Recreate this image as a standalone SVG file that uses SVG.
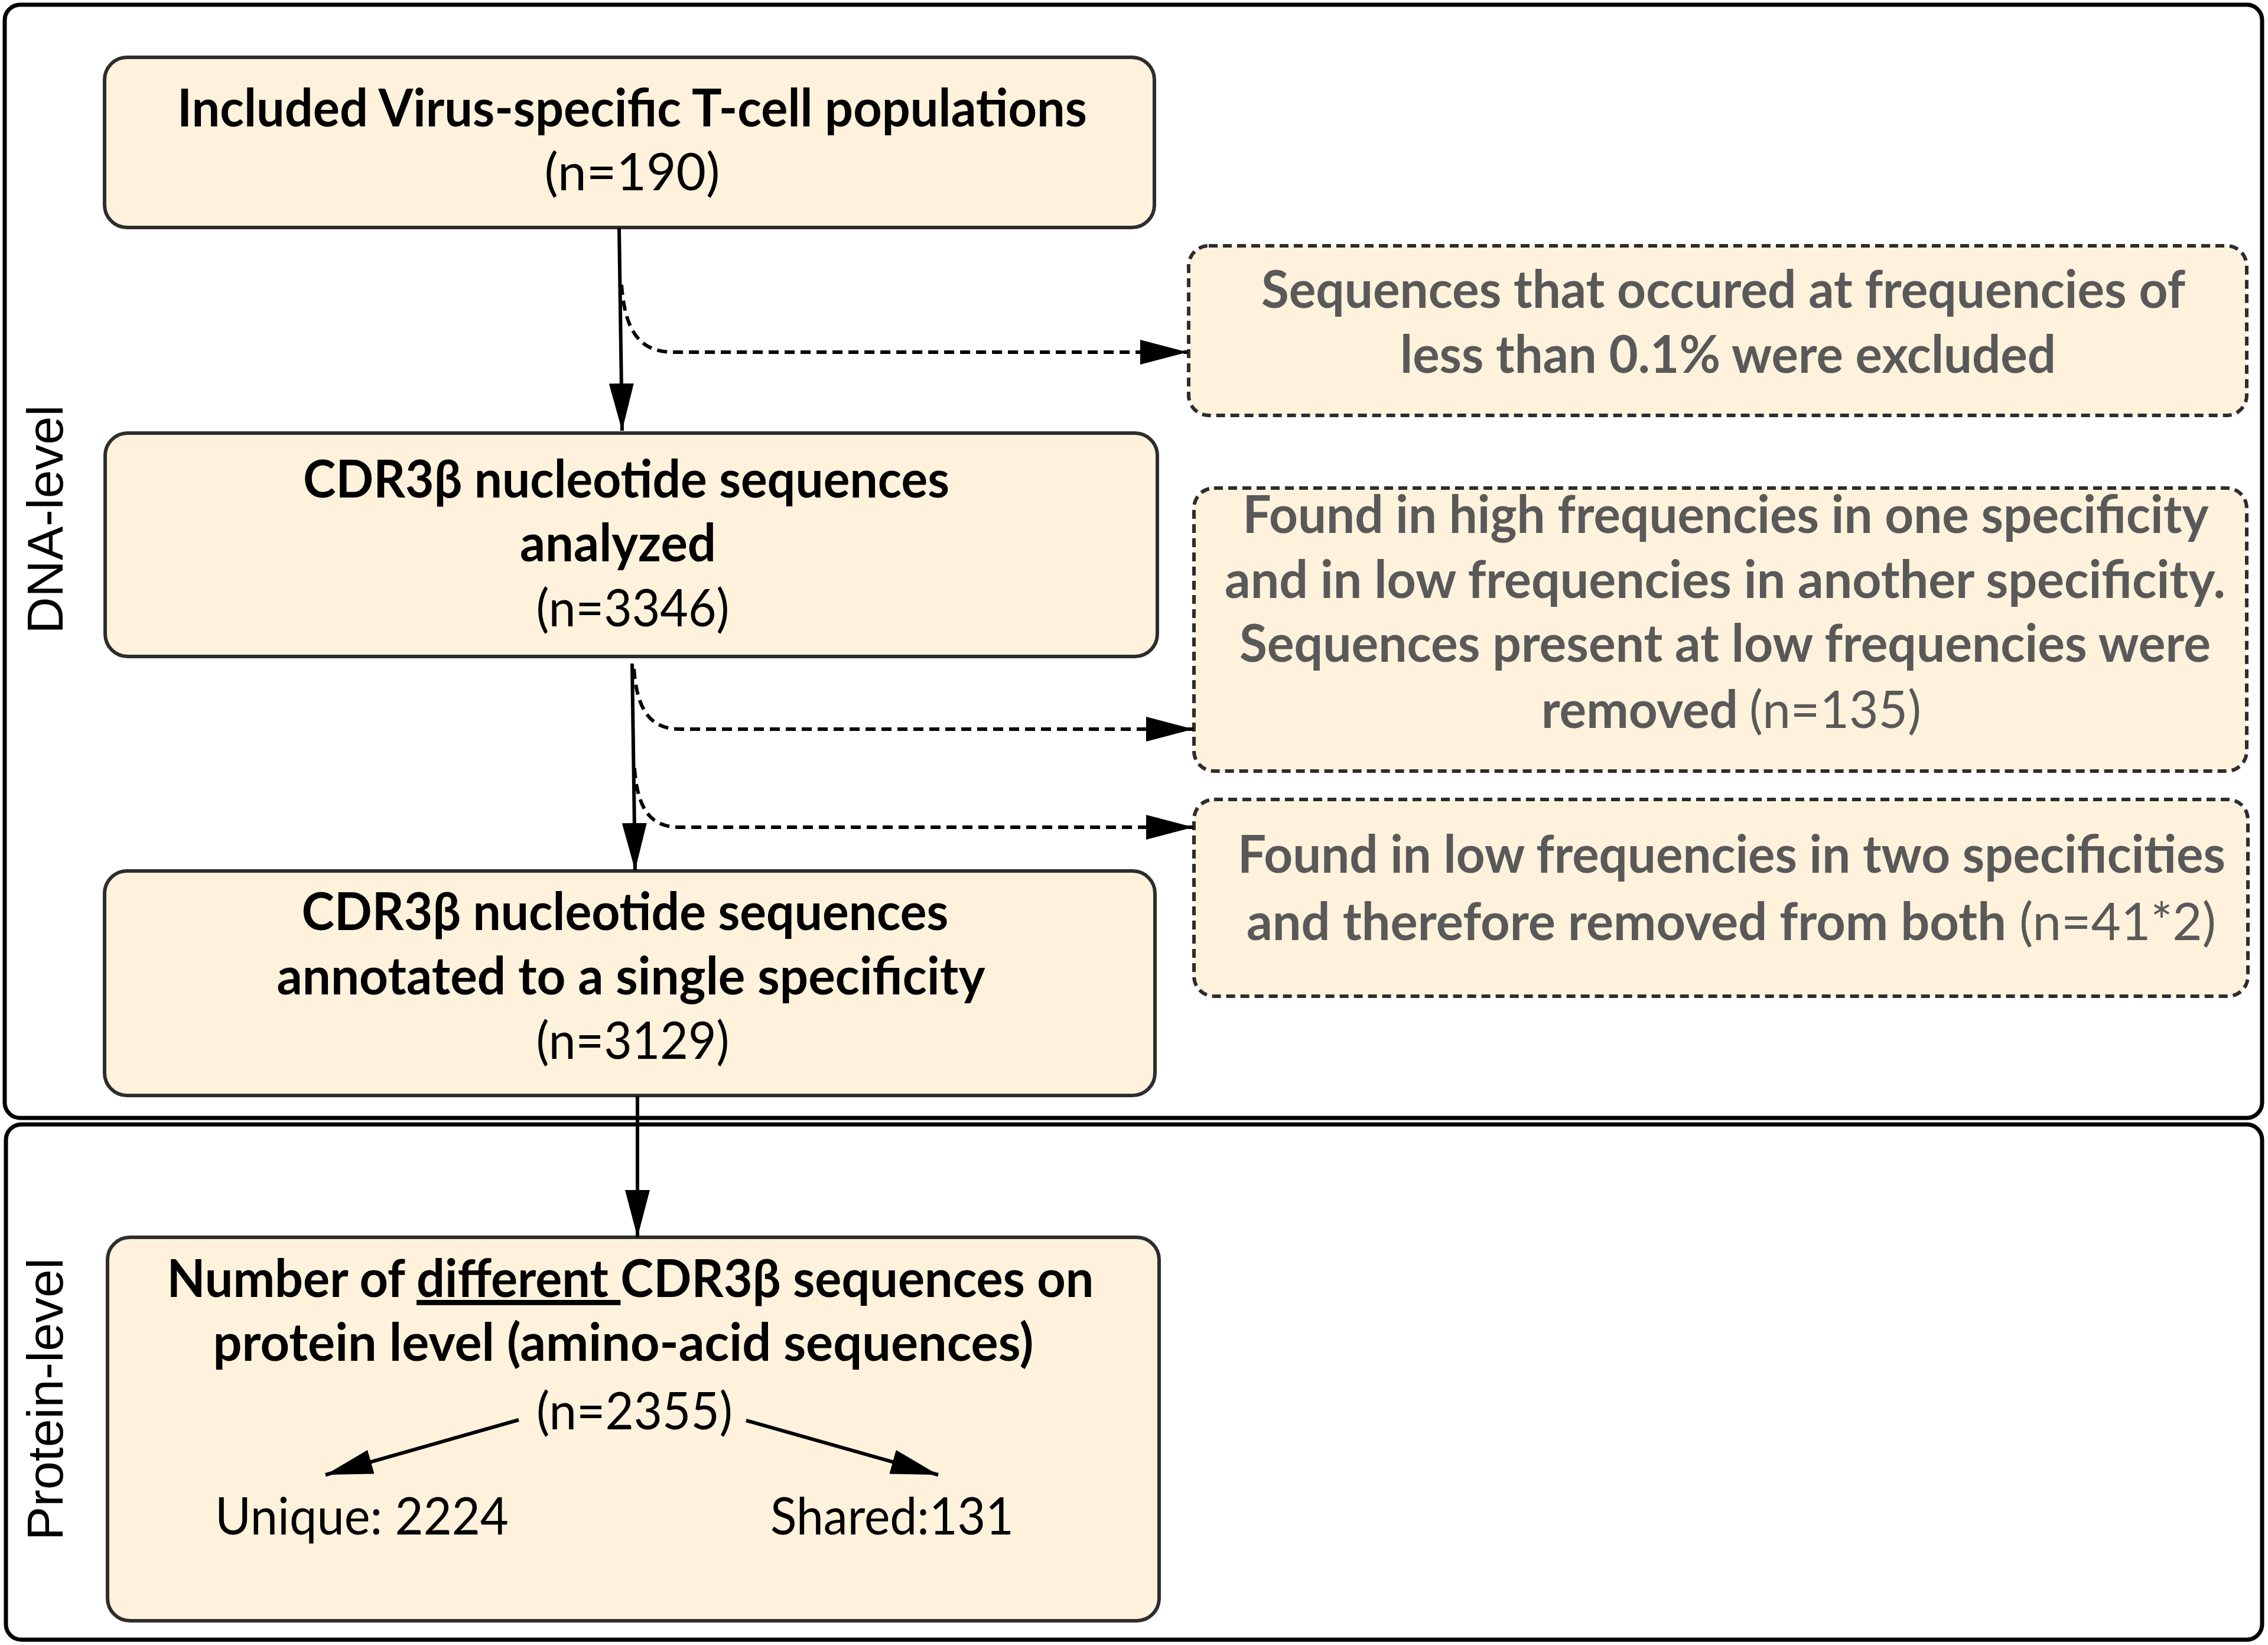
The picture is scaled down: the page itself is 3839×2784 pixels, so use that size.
<svg xmlns="http://www.w3.org/2000/svg" width="3839" height="2784" viewBox="0 0 3839 2784">
<style>
.frame{fill:none;stroke:#000;stroke-width:7}
.box{fill:#FEF2DC;stroke:#2d2d2d;stroke-width:6}
.dbox{fill:#FEF2DC;stroke:#2d2d2d;stroke-width:6;stroke-dasharray:15 9}
.b{font-family:Lato,"Open Sans","Liberation Sans",sans-serif;font-weight:700;font-size:88px;fill:#000}
.r{font-family:Lato,"Open Sans","Liberation Sans",sans-serif;font-weight:400;font-size:88px;fill:#000}
.g{fill:#595959}
.side{font-family:"Liberation Sans",Arial,sans-serif;font-size:86px;fill:#000}
.conn{fill:none;stroke:#000;stroke-width:6}
.dash{fill:none;stroke:#000;stroke-width:6;stroke-dasharray:17 10}
</style>
<defs>
<marker id="ah" viewBox="0 0 80 42" refX="80" refY="21" markerWidth="80" markerHeight="42" markerUnits="userSpaceOnUse" orient="auto">
<path d="M0,0 L80,21 L0,42 Z" fill="#000"/>
</marker>
</defs>
<rect width="3839" height="2784" fill="#fff"/>
<g id="dna-level">
<rect class="frame" x="8" y="8" width="3821" height="1884" rx="26"/>
<text class="side" transform="translate(106,879) rotate(-90)" text-anchor="middle">DNA-level</text>
</g>
<g id="protein-level">
<rect class="frame" x="10" y="1903" width="3819" height="872" rx="26"/>
<text class="side" transform="translate(106,2368) rotate(-90)" text-anchor="middle">Protein-level</text>
</g>
<g id="n1">
<rect class="box" x="177" y="97" width="1777" height="288" rx="38"/>
<text class="b" x="1070" y="214" text-anchor="middle" textLength="1540" lengthAdjust="spacingAndGlyphs">Included Virus-specific T-cell populations</text>
<text class="r" x="1070" y="322" text-anchor="middle" textLength="297" lengthAdjust="spacingAndGlyphs">(n=190)</text>
</g>
<g id="n2">
<rect class="box" x="178" y="733" width="1781" height="378" rx="38"/>
<text class="b" x="1060" y="842" text-anchor="middle" textLength="1094" lengthAdjust="spacingAndGlyphs">CDR3β nucleotide sequences</text>
<text class="b" x="1046" y="950" text-anchor="middle" textLength="332" lengthAdjust="spacingAndGlyphs">analyzed</text>
<text class="r" x="1071" y="1060" text-anchor="middle" textLength="327" lengthAdjust="spacingAndGlyphs">(n=3346)</text>
</g>
<g id="n3">
<rect class="box" x="177" y="1474" width="1778" height="380" rx="38"/>
<text class="b" x="1058" y="1574" text-anchor="middle" textLength="1095" lengthAdjust="spacingAndGlyphs">CDR3β nucleotide sequences</text>
<text class="b" x="1068" y="1683" text-anchor="middle" textLength="1199" lengthAdjust="spacingAndGlyphs">annotated to a single specificity</text>
<text class="r" x="1071" y="1792" text-anchor="middle" textLength="327" lengthAdjust="spacingAndGlyphs">(n=3129)</text>
</g>
<g id="n4">
<rect class="box" x="182" y="2094" width="1780" height="649" rx="38"/>
<text class="b" x="1067" y="2195" text-anchor="middle" textLength="1569" lengthAdjust="spacingAndGlyphs">Number of <tspan text-decoration="underline">different </tspan>CDR3β sequences on</text>
<text class="b" x="1055" y="2303" text-anchor="middle" textLength="1389" lengthAdjust="spacingAndGlyphs">protein level (amino-acid sequences)</text>
<text class="r" x="1074" y="2419" text-anchor="middle" textLength="332" lengthAdjust="spacingAndGlyphs">(n=2355)</text>
<text class="r" x="364" y="2597" textLength="497" lengthAdjust="spacingAndGlyphs">Unique: 2224</text>
<text class="r" x="1304" y="2597" textLength="412" lengthAdjust="spacingAndGlyphs">Shared:131</text>
</g>
<g id="e1">
<rect class="dbox" x="2012" y="416" width="1791" height="287" rx="34"/>
<text class="b g" x="2917" y="521" text-anchor="middle" textLength="1564" lengthAdjust="spacingAndGlyphs">Sequences that occured at frequencies of</text>
<text class="b g" x="2925" y="631" text-anchor="middle" textLength="1110" lengthAdjust="spacingAndGlyphs">less than 0.1% were excluded</text>
</g>
<g id="e2">
<rect class="dbox" x="2021" y="826" width="1782" height="479" rx="34"/>
<text class="b g" x="2921" y="902" text-anchor="middle" textLength="1635" lengthAdjust="spacingAndGlyphs">Found in high frequencies in one specificity</text>
<text class="b g" x="2920" y="1012" text-anchor="middle" textLength="1694" lengthAdjust="spacingAndGlyphs">and in low frequencies in another specificity.</text>
<text class="b g" x="2920" y="1120" text-anchor="middle" textLength="1644" lengthAdjust="spacingAndGlyphs">Sequences present at low frequencies were</text>
<text class="b g" x="2609" y="1232" textLength="333" lengthAdjust="spacingAndGlyphs">removed</text>
<text class="r g" x="2961" y="1232" textLength="291" lengthAdjust="spacingAndGlyphs">(n=135)</text>
</g>
<g id="e3">
<rect class="dbox" x="2021" y="1353" width="1784" height="333" rx="34"/>
<text class="b g" x="2931" y="1477" text-anchor="middle" textLength="1672" lengthAdjust="spacingAndGlyphs">Found in low frequencies in two specificities</text>
<text class="b g" x="2110" y="1591" textLength="1286" lengthAdjust="spacingAndGlyphs">and therefore removed from both</text>
<text class="r g" x="3418" y="1591" textLength="333" lengthAdjust="spacingAndGlyphs">(n=41*2)</text>
</g>
<g id="connectors">
<path class="conn" d="M1048,386 L1053,729" marker-end="url(#ah)"/>
<path class="dash" d="M1052,482 C1058,560 1082,596 1140,596 L2010,596" marker-end="url(#ah)"/>
<path class="conn" d="M1070,1123 L1075,1473" marker-end="url(#ah)"/>
<path class="dash" d="M1073,1132 C1078,1200 1100,1234 1150,1234 L2020,1234" marker-end="url(#ah)"/>
<path class="dash" d="M1074,1300 C1079,1368 1100,1400 1150,1400 L2020,1400" marker-end="url(#ah)"/>
<path class="conn" d="M1079,1855 L1079,2094" marker-end="url(#ah)"/>
<path class="conn" d="M878,2403 L551,2496" marker-end="url(#ah)"/>
<path class="conn" d="M1263,2404 L1588,2496" marker-end="url(#ah)"/>
</g>
</svg>
